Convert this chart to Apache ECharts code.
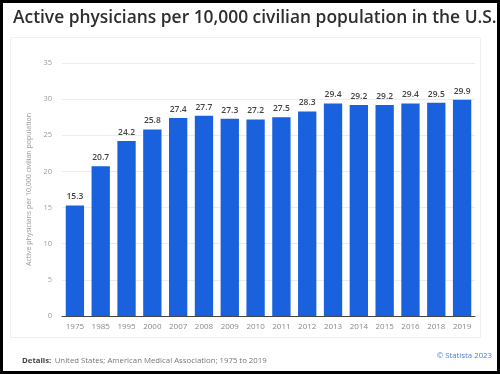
<!DOCTYPE html>
<html>
<head>
<meta charset="utf-8">
<script src="https://cdn.jsdelivr.net/npm/echarts@6/dist/echarts.min.js"></script>
<style>
html,body{margin:0;padding:0;background:#fff;}
#chart{width:500px;height:374px;}
</style>
</head>
<body>
<div id="chart"></div>
<script>
const categories = ['1975','1985','1995','2000','2007','2008','2009','2010','2011','2012','2013','2014','2015','2016','2018','2019'];
const values = [15.3,20.7,24.2,25.8,27.4,27.7,27.3,27.2,27.5,28.3,29.4,29.2,29.2,29.4,29.5,29.9];
const yTicks = [0,5,10,15,20,25,30,35];

const chart = echarts.init(document.getElementById('chart'));
chart.setOption({
  animation: false,
  backgroundColor: '#fff',
  title: {
    text: 'Active physicians per 10,000 civilian population in the U.S.',
    left: 8, top: 5,
    textStyle: {fontFamily: 'Open Sans', fontSize: 17.4, fontWeight: 600, color: '#2e2e2e'}
  },
  grid: {left: 62, right: 25, top: 63, bottom: 58},
  xAxis: {
    type: 'category',
    data: categories,
    axisLine: {lineStyle: {color: '#444', width: 1}},
    axisTick: {show: false},
    axisLabel: {color: '#888', fontFamily: 'Open Sans', fontSize: 8, margin: 7}
  },
  yAxis: {
    type: 'value',
    min: 0, max: 35, interval: 5,
    name: 'Active physicians per 10,000 civilian population',
    nameLocation: 'middle',
    nameGap: 27,
    nameTextStyle: {color: '#999', fontFamily: 'Open Sans', fontSize: 7},
    axisLine: {show: false},
    axisTick: {show: false},
    axisLabel: {color: '#999', fontFamily: 'Open Sans', fontSize: 7.5, margin: 10,
      formatter: v => yTicks.includes(v) ? String(v) : ''},
    splitLine: {lineStyle: {color: '#ececec', width: 1}}
  },
  series: [{
    type: 'bar',
    data: values,
    barWidth: '71%',
    itemStyle: {color: '#1a61de'},
    label: {show: true, position: 'top', distance: 4, color: '#444',
      fontFamily: 'Open Sans', fontSize: 8.5, fontWeight: 600}
  }],
  graphic: [
    {type: 'rect', shape: {x: 10.5, y: 37.5, width: 470, height: 300}, style: {fill: 'none', stroke: '#f0f0f0', lineWidth: 1}, silent: true, z: -1},
    {type: 'text', left: 22, top: 355, style: {
      rich: {b: {fontWeight: 'bold', fill: '#444', fontFamily: 'Open Sans', fontSize: 7.8}, n: {fill: '#777', fontFamily: 'Open Sans', fontSize: 7.8}},
      text: '{b|Details:} {n|United States; American Medical Association; 1975 to 2019}'
    }},
    {type: 'text', right: 8, top: 352, style: {text: '© Statista 2023', fill: '#4a7fd6', fontFamily: 'Open Sans', fontSize: 7.8}},
    {type: 'rect', shape: {x: 1.5, y: 1.5, width: 497, height: 371}, style: {fill: 'none', stroke: '#000', lineWidth: 3}, silent: true, z: 100}
  ]
});
</script>
</body>
</html>
